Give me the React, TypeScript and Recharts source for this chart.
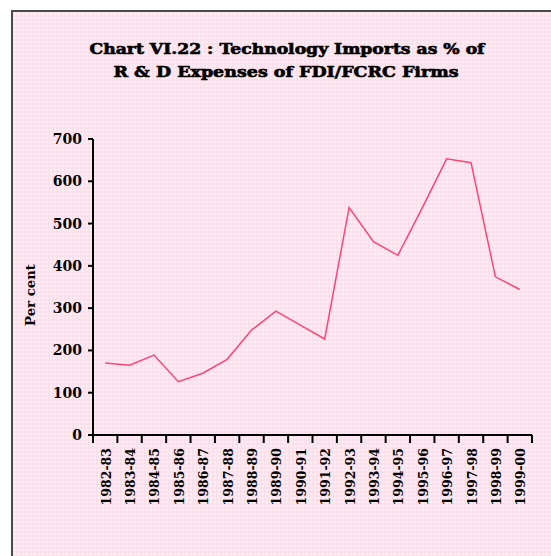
import { LineChart, Line, XAxis, YAxis } from 'recharts'

const years = [
  '1982-83', '1983-84', '1984-85', '1985-86', '1986-87', '1987-88', '1988-89', '1989-90', '1990-91',
  '1991-92', '1992-93', '1993-94', '1994-95', '1995-96', '1996-97', '1997-98', '1998-99', '1999-00',
]
const imports = [170, 165, 189, 126, 146, 179, 248, 293, 260, 227, 538, 457, 425, 537, 653, 644, 374, 344]
const yTicks = [0, 100, 200, 300, 400, 500, 600, 700]
const titleLines = ['Chart VI.22 : Technology Imports as % of', 'R & D Expenses of FDI/FCRC Firms']

const data = years.map((year, i) => ({ year, value: imports[i] }))

const FONT = '"DejaVu Serif", serif'
const W = 551
const H = 556
const BAND = 439 / 18

function YearTick(props: any) {
  const { x, y, payload, index } = props
  const last = index === years.length - 1
  return (
    <g>
      <line x1={x - BAND / 2} y1={y - 8} x2={x - BAND / 2} y2={y} stroke="#000" strokeWidth={2} />
      {last && <line x1={x + BAND / 2} y1={y - 8} x2={x + BAND / 2} y2={y} stroke="#000" strokeWidth={2} />}
      <text
        x={x + 1}
        y={y + 5}
        transform={`rotate(-90, ${x + 1}, ${y + 5})`}
        textAnchor="end"
        dominantBaseline="central"
        fontFamily={FONT}
        fontWeight="bold"
        fontSize={12.5}
        fill="#000"
      >
        {payload.value}
      </text>
    </g>
  )
}

export default function App() {
  return (
    <div style={{ position: 'absolute', left: 0, top: 0, width: W, height: H, background: '#fff', overflow: 'hidden' }}>
      <div
        style={{
          position: 'absolute',
          left: 11,
          top: 10,
          right: 0,
          bottom: 0,
          borderLeft: '2px solid #4a4a4a',
          borderTop: '2px solid #4a4a4a',
          backgroundColor: '#fce0ee',
          backgroundImage: 'radial-gradient(circle at 2px 2px, #fff4f0 0.9px, transparent 1.4px)',
          backgroundSize: '4px 4px',
        }}
      />
      <svg width={W} height={H} style={{ position: 'absolute', left: 0, top: 0 }}>
        <text
          x={287}
          y={49}
          textAnchor="middle"
          dominantBaseline="central"
          textLength={395}
          lengthAdjust="spacingAndGlyphs"
          fontFamily={FONT}
          fontWeight="bold"
          fontSize={14}
          fill="#000"
          stroke="#000"
          strokeWidth={0.6}
        >
          {titleLines[0]}
        </text>
        <text
          x={286}
          y={72}
          textAnchor="middle"
          dominantBaseline="central"
          textLength={345}
          lengthAdjust="spacingAndGlyphs"
          fontFamily={FONT}
          fontWeight="bold"
          fontSize={14}
          fill="#000"
          stroke="#000"
          strokeWidth={0.6}
        >
          {titleLines[1]}
        </text>
      </svg>
      <div style={{ position: 'absolute', left: 0, top: 0 }}>
        <LineChart width={W} height={H} data={data} margin={{ top: 139, right: 19, bottom: 41, left: 0 }}>
          <XAxis
            dataKey="year"
            height={80}
            interval={0}
            padding={{ left: BAND / 2, right: BAND / 2 }}
            axisLine={{ stroke: '#000', strokeWidth: 2 }}
            tickLine={false}
            tick={<YearTick />}
          />
          <YAxis
            width={93}
            domain={[0, 700]}
            ticks={yTicks}
            interval={0}
            axisLine={{ stroke: '#000', strokeWidth: 2 }}
            tickLine={{ stroke: '#000', strokeWidth: 2 }}
            tickSize={5}
            tickMargin={6}
            tick={{ fontFamily: FONT, fontWeight: 'bold', fontSize: 14, fill: '#000' }}
            label={{
              content: () => (
                <text
                  x={31}
                  y={295}
                  transform="rotate(-90, 31, 295)"
                  textAnchor="middle"
                  dominantBaseline="central"
                  textLength={62}
                  lengthAdjust="spacingAndGlyphs"
                  fontFamily={FONT}
                  fontWeight="bold"
                  fontSize={12}
                  fill="#000"
                >
                  Per cent
                </text>
              ),
            }}
          />
          <Line
            type="linear"
            dataKey="value"
            stroke="#ff4477"
            strokeWidth={1.5}
            dot={false}
            isAnimationActive={false}
          />
        </LineChart>
      </div>
    </div>
  )
}
